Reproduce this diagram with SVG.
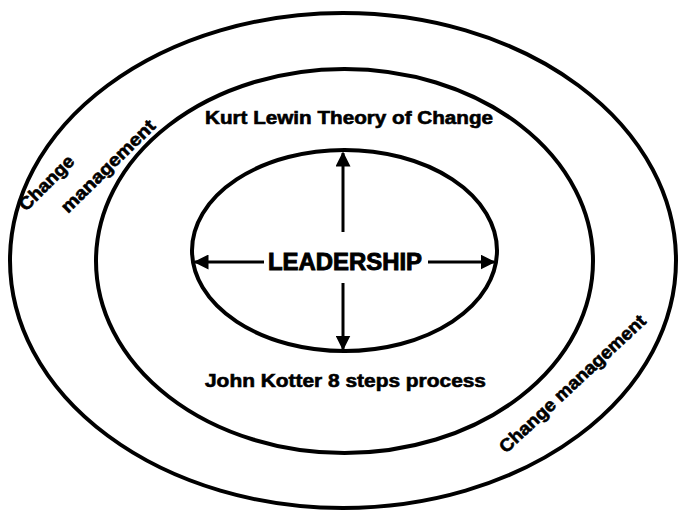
<svg xmlns="http://www.w3.org/2000/svg" width="678" height="510" viewBox="0 0 678 510">
  <defs>
    <marker id="head" viewBox="0 0 10 10" refX="9" refY="5" markerWidth="5" markerHeight="5" orient="auto" markerUnits="strokeWidth">
      <path d="M0,0 L10,5 L0,10 Z" fill="#000"/>
    </marker>
    <style>
      .ring { fill: none; stroke: #000; stroke-width: 4; }
      .axis { stroke: #000; stroke-width: 3; fill: none; marker-end: url(#head); }
      .lbl { font-family: "Liberation Sans", Arial, sans-serif; font-weight: bold; font-size: 18px; fill: #000; stroke: #000; stroke-width: 0.6; }
      .core { font-family: "Liberation Sans", Arial, sans-serif; font-weight: bold; font-size: 23px; fill: #000; stroke: #000; stroke-width: 0.9; }
    </style>
  </defs>
  <rect width="678" height="510" fill="#fff"/>

  <!-- outer ring: change management -->
  <g id="change-management">
    <ellipse class="ring" cx="343" cy="260.5" rx="333" ry="247.5"/>
    <text class="lbl" transform="translate(26,212) rotate(-45)" textLength="70" lengthAdjust="spacingAndGlyphs">Change</text>
    <text class="lbl" transform="translate(68,214) rotate(-44.5)" textLength="124" lengthAdjust="spacingAndGlyphs">management</text>
    <text class="lbl" transform="translate(506,454) rotate(-43)" textLength="193" lengthAdjust="spacingAndGlyphs">Change management</text>
  </g>

  <!-- middle ring: change theories -->
  <g id="theories">
    <ellipse class="ring" cx="344.5" cy="261" rx="248.5" ry="192"/>
    <text class="lbl" x="205" y="124" textLength="288" lengthAdjust="spacingAndGlyphs">Kurt Lewin Theory of Change</text>
    <text class="lbl" x="205" y="387" textLength="281" lengthAdjust="spacingAndGlyphs">John Kotter 8 steps process</text>
  </g>

  <!-- inner core: leadership -->
  <g id="leadership">
    <ellipse class="ring" cx="344.5" cy="250.5" rx="152.5" ry="100.5"/>
    <text class="core" x="268" y="270" textLength="154" lengthAdjust="spacingAndGlyphs">LEADERSHIP</text>
  </g>

  <!-- arrows radiating from the core label -->
  <g id="connectors">
    <line class="axis" x1="343" y1="232" x2="343" y2="153"/>
    <line class="axis" x1="343" y1="283" x2="343" y2="349"/>
    <line class="axis" x1="264" y1="262" x2="195" y2="262"/>
    <line class="axis" x1="428" y1="262" x2="494" y2="262"/>
  </g>
</svg>
